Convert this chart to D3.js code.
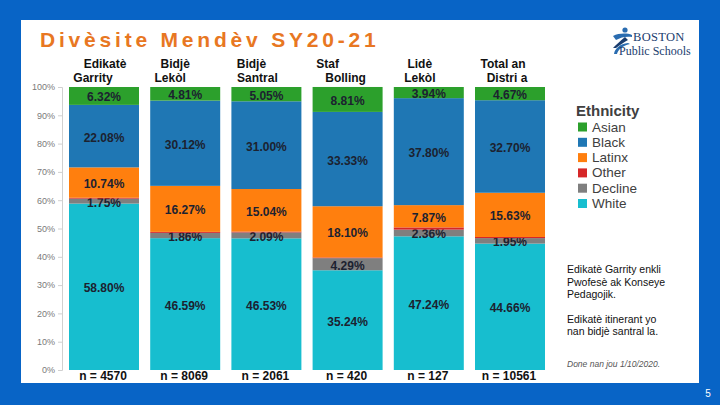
<!DOCTYPE html>
<html>
<head>
<meta charset="utf-8">
<script src="https://cdn.jsdelivr.net/npm/d3@7"></script>
<style>
  body { margin: 0; padding: 0; background: #0864c6; }
  svg { display: block; }
</style>
</head>
<body>
<div id="chart-area"></div>
<script>
// Workforce diversity SY20-21, percent by ethnicity per staff group
var groups   = ["Garrity", "BidjeLekol", "BidjeSantral", "Bolling", "Lide", "Total"];
var header1  = ["Edikatè", "Bidjè", "Bidjè", "Staf", "Lidè", "Total an"];
var header2  = ["Garrity", "Lekòl", "Santral", "Bolling", "Lekòl", "Distri a"];
var counts   = [4570, 8069, 2061, 420, 127, 10561];

var ethnicities = ["Asian", "Black", "Latinx", "Other", "Decline", "White"];
var asian   = [6.32, 4.81, 5.05, 8.81, 3.94, 4.67];
var black   = [22.08, 30.12, 31.00, 33.33, 37.80, 32.70];
var latinx  = [10.74, 16.27, 15.04, 18.10, 7.87, 15.63];
var other   = [0.31, 0.35, 0.29, 0.24, 0.79, 0.39];
var decline = [1.75, 1.86, 2.09, 4.29, 2.36, 1.95];
var white   = [58.80, 46.59, 46.53, 35.24, 47.24, 44.66];

var yTicks = [0, 10, 20, 30, 40, 50, 60, 70, 80, 90, 100];

var colors = {
	Asian: "#2ca02c", Black: "#1f77b4", Latinx: "#ff7f0e",
	Other: "#d62728", Decline: "#7f7f7f", White: "#17becf"
};

// rows for d3.stack
var rows = groups.map(function(g, i){
	return { group: g, Asian: asian[i], Black: black[i], Latinx: latinx[i],
		Other: other[i], Decline: decline[i], White: white[i] };
});

// header line offsets (the slide's text boxes are not centred on the bars)
var headShift = [[1, -11], [-10, -15], [-15, -9], [-20, -2], [-9, -9], [-7, -3]];

var W = 720, H = 405;
var svg = d3.select("#chart-area")
	.append("svg")
		.attr("width", W)
		.attr("height", H);

// blue frame + white slide panel
svg.append("rect").attr("width", W).attr("height", H).attr("fill", "#0864c6");
svg.append("rect")
	.attr("x", 21).attr("y", 20)
	.attr("width", 678).attr("height", 363)
	.attr("fill", "#ffffff");

// title
svg.append("text")
	.attr("x", 40).attr("y", 47)
	.attr("font-family", "Liberation Sans, Arial, sans-serif")
	.attr("font-weight", "bold")
	.attr("font-size", "21px")
	.attr("letter-spacing", "3.8px")
	.attr("fill", "#e87722")
	.text("Divèsite Mendèv SY20-21");

// scales
var x = d3.scaleBand()
	.domain(groups)
	.range([63.4, 550.6])
	.paddingInner(0.138)
	.paddingOuter(0.069);

var y = d3.scaleLinear()
	.domain([0, 100])
	.range([370, 87]);

// y axis
var yAxisGroup = svg.append("g")
	.attr("transform", "translate(62,0)")
	.call(d3.axisLeft(y)
		.tickValues(yTicks)
		.tickSize(4)
		.tickPadding(3)
		.tickFormat(function(d){ return d + "%"; }));

yAxisGroup.select(".domain").attr("stroke", "#d0d0d0");
yAxisGroup.selectAll(".tick line").attr("stroke", "#d0d0d0");
yAxisGroup.selectAll(".tick text")
	.attr("fill", "#7a7a7a")
	.attr("font-family", "Liberation Sans, Arial, sans-serif")
	.attr("font-size", "9px");

// stacked bars
var stack = d3.stack().keys(["White", "Decline", "Other", "Latinx", "Black", "Asian"]);
var series = stack(rows);

var layers = svg.selectAll("g.layer")
	.data(series)
	.enter()
	.append("g")
		.attr("class", "layer")
		.attr("fill", function(d){ return colors[d.key]; });

layers.selectAll("rect")
	.data(function(d){ return d; })
	.enter()
	.append("rect")
		.attr("x", function(d){ return x(d.data.group); })
		.attr("width", x.bandwidth())
		.attr("y", function(d){ return y(d[1]); })
		.attr("height", function(d){ return y(d[0]) - y(d[1]); });

// value labels (no label on the thin "Other" slice)
layers.filter(function(d){ return d.key !== "Other"; })
	.selectAll("text")
	.data(function(d){ return d; })
	.enter()
	.append("text")
		.attr("x", function(d){ return x(d.data.group) + x.bandwidth() / 2; })
		.attr("y", function(d){ return (y(d[0]) + y(d[1])) / 2 + 1.5; })
		.attr("text-anchor", "middle")
		.attr("dominant-baseline", "central")
		.attr("font-family", "Liberation Sans, Arial, sans-serif")
		.attr("font-weight", "bold")
		.attr("font-size", "12px")
		.attr("fill", "#1c2230")
		.text(function(d){ return (d[1] - d[0]).toFixed(2) + "%"; });

// column headers
var heads = svg.selectAll("g.head")
	.data(groups)
	.enter()
	.append("g")
		.attr("class", "head")
		.attr("font-family", "Liberation Sans, Arial, sans-serif")
		.attr("font-weight", "bold")
		.attr("font-size", "12px")
		.attr("fill", "#111")
		.attr("text-anchor", "middle");

heads.append("text")
	.attr("x", function(d, i){ return x(d) + x.bandwidth() / 2 + headShift[i][0]; })
	.attr("y", 68)
	.text(function(d, i){ return header1[i]; });

heads.append("text")
	.attr("x", function(d, i){ return x(d) + x.bandwidth() / 2 + headShift[i][1]; })
	.attr("y", 82)
	.text(function(d, i){ return header2[i]; });

// n = ... under bars
svg.selectAll("text.count")
	.data(groups)
	.enter()
	.append("text")
		.attr("class", "count")
		.attr("x", function(d){ return x(d) + x.bandwidth() / 2 - 1; })
		.attr("y", 380)
		.attr("text-anchor", "middle")
		.attr("font-family", "Liberation Sans, Arial, sans-serif")
		.attr("font-weight", "bold")
		.attr("font-size", "12px")
		.attr("fill", "#111")
		.text(function(d, i){ return "n = " + counts[i]; });

// legend
var legend = svg.append("g")
	.attr("transform", "translate(576,0)")
	.attr("font-family", "Liberation Sans, Arial, sans-serif");

legend.append("text")
	.attr("x", 0).attr("y", 116)
	.attr("font-weight", "bold")
	.attr("font-size", "15px")
	.attr("fill", "#404040")
	.text("Ethnicity");

var items = legend.selectAll("g.item")
	.data(ethnicities)
	.enter()
	.append("g")
		.attr("class", "item")
		.attr("transform", function(d, i){ return "translate(0," + (127 + i * 15.3) + ")"; });

items.append("rect")
	.attr("x", 2).attr("y", -4.5)
	.attr("width", 9).attr("height", 9)
	.attr("fill", function(d){ return colors[d]; });

items.append("text")
	.attr("x", 16).attr("y", 0)
	.attr("dominant-baseline", "central")
	.attr("font-size", "13.5px")
	.attr("fill", "#404040")
	.text(function(d){ return d; });

// notes
var notes = svg.append("g")
	.attr("font-family", "Liberation Sans, Arial, sans-serif")
	.attr("font-size", "10.5px")
	.attr("fill", "#111");

var noteLines = [
	["Edikatè Garrity enkli", 273],
	["Pwofesè ak Konseye", 286],
	["Pedagojik.", 298],
	["Edikatè itinerant yo", 323],
	["nan bidjè santral la.", 335]
];
notes.selectAll("text")
	.data(noteLines)
	.enter()
	.append("text")
		.attr("x", 567)
		.attr("y", function(d){ return d[1]; })
		.text(function(d){ return d[0]; });

svg.append("text")
	.attr("x", 567).attr("y", 367)
	.attr("font-family", "Liberation Sans, Arial, sans-serif")
	.attr("font-style", "italic")
	.attr("font-size", "8.5px")
	.attr("fill", "#555")
	.text("Done nan jou 1/10/2020.");

// page number
svg.append("text")
	.attr("x", 708).attr("y", 397)
	.attr("text-anchor", "middle")
	.attr("font-family", "Liberation Sans, Arial, sans-serif")
	.attr("font-size", "10px")
	.attr("fill", "#ffffff")
	.text("5");

// Boston Public Schools logo
var logo = svg.append("g");
logo.append("circle").attr("cx", 625).attr("cy", 30).attr("r", 2.6).attr("fill", "#2a6cb0");
logo.append("path")
	.attr("d", "M613,36 C619,33 627,33 632,35 L632,37 C627,36 621,37 616,40 Z")
	.attr("fill", "#2a6cb0");
logo.append("path")
	.attr("d", "M625,37 C620,41 616,45 613,48 L616,48 C620,45 624,42 628,40 Z")
	.attr("fill", "#1a3c6e");
logo.append("path")
	.attr("d", "M614,54 C615,48 620,44 628,43 L630,44 C622,46 618,50 617,54 Z")
	.attr("fill", "#2a6cb0");
logo.append("text")
	.attr("x", 633).attr("y", 41)
	.attr("font-family", "Liberation Serif, Times New Roman, serif")
	.attr("font-size", "12.5px")
	.attr("letter-spacing", "0.3px")
	.attr("fill", "#1a3c6e")
	.text("BOSTON");
logo.append("text")
	.attr("x", 619).attr("y", 55)
	.attr("font-family", "Liberation Serif, Times New Roman, serif")
	.attr("font-size", "12px")
	.attr("fill", "#1a3c6e")
	.text("Public Schools");
</script>
</body>
</html>
